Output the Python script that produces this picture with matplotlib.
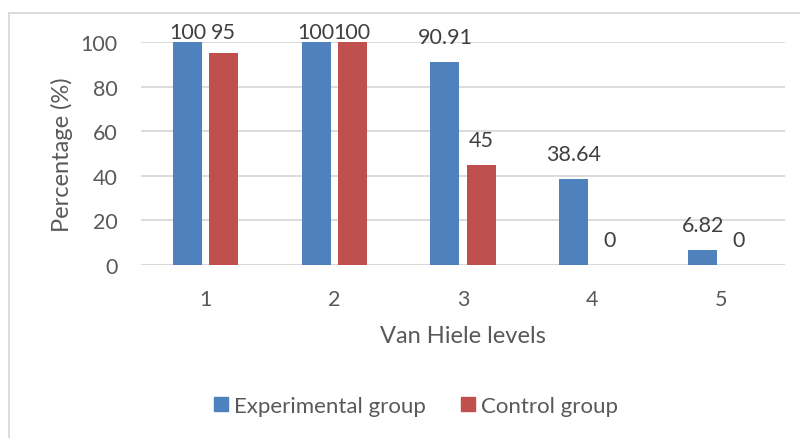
import matplotlib
matplotlib.use("Agg")
import matplotlib.pyplot as plt
from matplotlib.lines import Line2D
import numpy as np

plt.rcParams['font.family'] = ['Lato', 'DejaVu Sans']

levels = ["1", "2", "3", "4", "5"]
experimental = [100, 100, 90.91, 38.64, 6.82]
control = [95, 100, 45, 0, 0]
exp_labels = ["100", "100", "90.91", "38.64", "6.82"]
ctl_labels = ["95", "100", "45", "0", "0"]

blue = "#4f81bd"
red = "#c0504d"
grid_c = "#d9d9d9"
txt = "#595959"
lbl = "#404040"

fig = plt.figure(figsize=(8, 4.39), dpi=100)
ax = fig.add_axes([141/800, (439-266)/439, 644/800, 223/439])

x = np.arange(len(levels))
w = 0.225
off = 0.14
ax.bar(x - off, experimental, w, color=blue, zorder=3)
ax.bar(x + off, control, w, color=red, zorder=3)

ax.set_xlim(-0.5, len(levels) - 0.5)
ax.set_ylim(0, 100)
ax.set_yticks([0, 20, 40, 60, 80, 100])
ax.yaxis.grid(True, color=grid_c, linewidth=1.3, zorder=0)
ax.set_axisbelow(True)
for s in ax.spines.values():
    s.set_visible(False)
ax.axhline(0, color=grid_c, linewidth=1.3, zorder=1)
ax.tick_params(axis='both', length=0, labelsize=15.5, labelcolor=txt)
ax.tick_params(axis='y', pad=17)
ax.tick_params(axis='x', pad=17)
ax.set_xticks(x)
ax.set_xticklabels(levels)

def lab_y(v):
    return min(v + 11.2, 104.5)

for i in range(len(levels)):
    ax.text(x[i] - off, lab_y(experimental[i]), exp_labels[i], ha='center', va='center',
            fontsize=15.5, color=lbl, clip_on=False)
    ax.text(x[i] + off, lab_y(control[i]), ctl_labels[i], ha='center', va='center',
            fontsize=15.5, color=lbl, clip_on=False)

ax.set_ylabel("Percentage (%)", fontsize=17, color=txt, labelpad=5)
ax.set_xlabel("Van Hiele levels", fontsize=17, color=txt, labelpad=12)

handles = [Line2D([], [], marker='s', linestyle='none', markersize=10, color=blue),
           Line2D([], [], marker='s', linestyle='none', markersize=10, color=red)]
fig.legend(handles, ["Experimental group", "Control group"], loc='center',
           bbox_to_anchor=(415/800, (439-407)/439), ncol=2, frameon=False,
           fontsize=16, labelcolor=txt, handletextpad=0.2, columnspacing=1.5,
           handlelength=0.8)

# outer chart border (left and top visible)
fig.add_artist(Line2D([8.5/800, 8.5/800], [0, (439-13.5)/439], color=grid_c, linewidth=1.3,
                      transform=fig.transFigure))
fig.add_artist(Line2D([8.5/800, 1.0], [(439-13.5)/439, (439-13.5)/439], color=grid_c, linewidth=1.3,
                      transform=fig.transFigure))

fig.savefig("out.png", dpi=100)
